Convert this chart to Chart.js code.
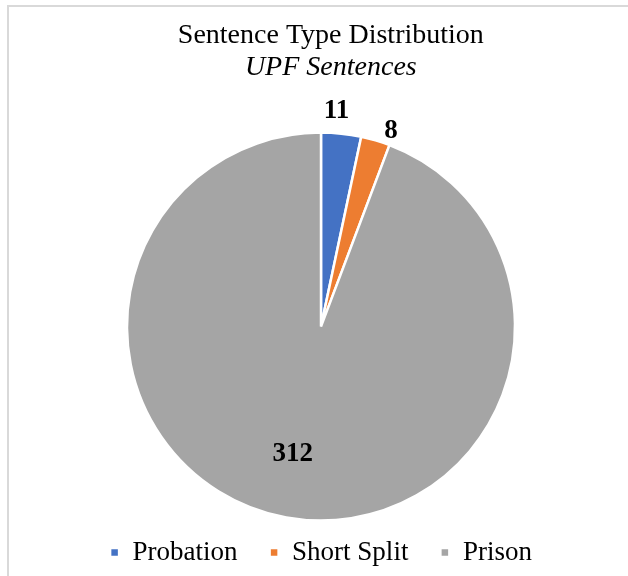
<!DOCTYPE html>
<html>
<head>
<meta charset="utf-8">
<script src="https://cdn.jsdelivr.net/npm/chart.js@4"></script>
<style>
  html, body { margin: 0; padding: 0; background: #fff; }
  #wrap { position: relative; width: 628px; height: 576px; }
  canvas { display: block; }
</style>
</head>
<body>
<div id="wrap"><canvas id="c" width="628" height="576"></canvas></div>
<script>
const categories = ["Probation", "Short Split", "Prison"];
const sentenceCounts = [11, 8, 312];
const sliceColors = ["#4472C4", "#ED7D31", "#A5A5A5"];
const chartTitle = "Sentence Type Distribution";
const chartSubtitle = "UPF Sentences";

const frameBorder = {
  id: 'frameBorder',
  beforeDraw(chart) {
    const ctx = chart.ctx;
    ctx.save();
    ctx.fillStyle = '#fff';
    ctx.fillRect(0, 0, chart.width, chart.height);
    ctx.strokeStyle = '#d9d9d9';
    ctx.lineWidth = 2;
    ctx.beginPath();
    ctx.moveTo(8, chart.height);
    ctx.lineTo(8, 6);
    ctx.lineTo(chart.width, 6);
    ctx.stroke();
    ctx.restore();
  }
};

const sliceLabels = {
  id: 'sliceLabels',
  afterDatasetsDraw(chart, args, opts) {
    const ctx = chart.ctx;
    const meta = chart.getDatasetMeta(0);
    const data = chart.data.datasets[0].data;
    ctx.save();
    ctx.font = 'bold 27px "Liberation Serif", "Times New Roman", serif';
    ctx.fillStyle = '#000';
    ctx.textAlign = 'center';
    ctx.textBaseline = 'middle';
    meta.data.forEach((arc, i) => {
      const p = arc.getProps(['x', 'y', 'startAngle', 'endAngle', 'outerRadius'], true);
      const mid = (p.startAngle + p.endAngle) / 2;
      const outside = (p.endAngle - p.startAngle) < 0.6;
      const r = outside ? p.outerRadius + opts.outsideGap : p.outerRadius * opts.insideFrac;
      const n = opts.nudge[i] || [0, 0];
      const x = p.x + Math.cos(mid) * r + n[0];
      const y = p.y + Math.sin(mid) * r + n[1];
      ctx.fillText(String(data[i]), x, y);
    });
    ctx.restore();
  }
};

// leading spaces nudge the centred heading a little to the right, as in the original
const titleIndent = "\u2002\u2009";

new Chart(document.getElementById('c'), {
  type: 'pie',
  data: {
    labels: categories,
    datasets: [{
      data: sentenceCounts,
      backgroundColor: sliceColors,
      borderColor: '#ffffff',
      borderWidth: 2.5
    }]
  },
  options: {
    responsive: false,
    animation: false,
    radius: 194,
    layout: { padding: { left: 14, right: 0, top: 0, bottom: 0 } },
    plugins: {
      title: {
        display: true,
        text: titleIndent + chartTitle,
        color: '#000',
        font: { family: '"Liberation Serif", "Times New Roman", serif', size: 28, weight: 'normal', lineHeight: 1.2 },
        padding: { top: 19, bottom: 0 }
      },
      subtitle: {
        display: true,
        text: titleIndent + chartSubtitle,
        color: '#000',
        font: { family: '"Liberation Serif", "Times New Roman", serif', size: 28, style: 'italic', weight: 'normal', lineHeight: 1.2 },
        padding: { top: -2, bottom: 62 }
      },
      legend: {
        position: 'bottom',
        labels: {
          color: '#000',
          boxWidth: 9,
          boxHeight: 9,
          padding: 32,
          font: { family: '"Liberation Serif", "Times New Roman", serif', size: 27 }
        }
      },
      tooltip: { enabled: false },
      sliceLabels: {
        outsideGap: 23,
        insideFrac: 0.667,
        nudge: [[-7, 0], [9, 13], [-5, 0]]
      }
    }
  },
  plugins: [frameBorder, sliceLabels]
});
</script>
</body>
</html>
